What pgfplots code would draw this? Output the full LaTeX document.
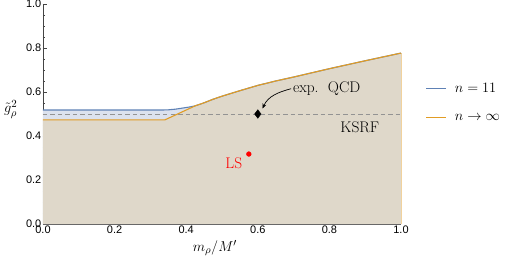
\documentclass[border=0pt]{standalone}
\usepackage{pgfplots}
\pgfplotsset{compat=1.18}
\usepackage{fontspec}
\newfontfamily\tickfont{Liberation Sans}
\usetikzlibrary{arrows.meta}
\definecolor{mblue}{HTML}{5E81B5}
\definecolor{morange}{HTML}{E19C24}
\definecolor{beige}{HTML}{DFD8CA}
\definecolor{lblue}{HTML}{DCE2EE}
\definecolor{axgray}{HTML}{444444}
\newcommand{\bigf}{\fontsize{15.5}{17}\selectfont}
\begin{document}
\begin{tikzpicture}
\useasboundingbox (-43bp,-40bp) rectangle (462bp,224bp);
\begin{axis}[
  at={(0,0)}, anchor=south west,
  scale only axis, width=358bp, height=220bp,
  xmin=0, xmax=1, ymin=0, ymax=1,
  axis lines*=left,
  axis line style={axgray, line width=0.8pt},
  xtick={0,0.2,...,1.0}, ytick={0,0.2,...,1.0},
  minor xtick={0.05,0.1,...,0.95}, minor ytick={0.05,0.1,...,0.95},
  tick align=inside,
  major tick length=4bp, minor tick length=2.5bp,
  tick style={axgray, line width=0.6pt},
  xticklabel style={font=\tickfont\fontsize{11}{12}\selectfont, inner sep=1.5bp},
  yticklabel style={font=\tickfont\fontsize{11}{12}\selectfont, inner sep=1.5bp},
  /pgf/number format/assume math mode=true,
  /pgf/number format/fixed, /pgf/number format/fixed zerofill, /pgf/number format/precision=1,
  xlabel={$m_\rho/M'$},
  xlabel style={font=\bigf, at={(axis description cs:0.48,-0.11)}, anchor=center},
  ylabel={$\tilde g_\rho^2$},
  ylabel style={font=\bigf, rotate=-90, at={(axis description cs:-0.09,0.52)}, anchor=center},
  clip=false,
]
% light blue area under blue curve
\addplot[fill=lblue, draw=none] coordinates {
 (0,0) (0,0.518) (0.33,0.518) (0.35,0.519) (0.37,0.522) (0.39,0.527) (0.41,0.532) (0.425,0.537) (0.45,0.551) (0.475,0.567) (0.5,0.581) (0.55,0.606) (0.6,0.630) (0.65,0.650) (0.7,0.668) (0.8,0.706) (0.9,0.742) (1.0,0.777) (1,0)} \closedcycle;
% beige area under orange curve
\addplot[fill=beige, draw=none] coordinates {
 (0,0) (0,0.473) (0.34,0.473) (0.425,0.537) (0.45,0.551) (0.475,0.567) (0.5,0.581) (0.55,0.606) (0.6,0.630) (0.65,0.650) (0.7,0.668) (0.8,0.706) (0.9,0.742) (1.0,0.777) (1,0)} \closedcycle;
\addplot[morange!45, line width=0.6pt] coordinates {(1,0) (1,0.777)};
% KSRF dashed
\addplot[gray!85, line width=0.9pt, dash pattern=on 4.5bp off 3bp] coordinates {(0,0.5) (1,0.5)};
\addplot[mblue, line width=1.1pt] coordinates {
 (0,0.518) (0.33,0.518) (0.35,0.519) (0.37,0.522) (0.39,0.527) (0.41,0.532) (0.425,0.537) (0.45,0.551) (0.475,0.567) (0.5,0.581) (0.55,0.606) (0.6,0.630) (0.65,0.650) (0.7,0.668) (0.8,0.706) (0.9,0.742) (1.0,0.777)};
\addplot[morange, line width=1.1pt] coordinates {
 (0,0.473) (0.34,0.473) (0.425,0.537) (0.45,0.551) (0.475,0.567) (0.5,0.581) (0.55,0.606) (0.6,0.630) (0.65,0.650) (0.7,0.668) (0.8,0.706) (0.9,0.742) (1.0,0.777)};
% exp QCD diamond
\addplot[only marks, mark=diamond*, mark size=4.3bp, black] coordinates {(0.6,0.5)};
% LS point
\addplot[only marks, mark=*, mark size=2.4bp, red] coordinates {(0.575,0.318)};
\node[anchor=west, font=\bigf, inner sep=0pt] at (axis cs:0.698,0.617) {exp.\ \ QCD};
\draw[-{Stealth[length=5bp,width=4bp]}, line width=0.7pt] (axis cs:0.693,0.615) to[out=195,in=65] (axis cs:0.613,0.525);
\node[font=\bigf] at (axis cs:0.885,0.44) {KSRF};
\node[font=\bigf, text=red] at (axis cs:0.533,0.277) {LS};
% legend
\draw[mblue, line width=1.3pt] (rel axis cs:1.070,0.616) -- (rel axis cs:1.126,0.616);
\draw[morange, line width=1.3pt] (rel axis cs:1.070,0.484) -- (rel axis cs:1.126,0.484);
\node[anchor=west, font=\bigf, inner sep=0pt] at (rel axis cs:1.150,0.618) {$n=11$};
\node[anchor=west, font=\bigf, inner sep=0pt] at (rel axis cs:1.150,0.486) {$n\to\infty$};
\end{axis}
\end{tikzpicture}
\end{document}
